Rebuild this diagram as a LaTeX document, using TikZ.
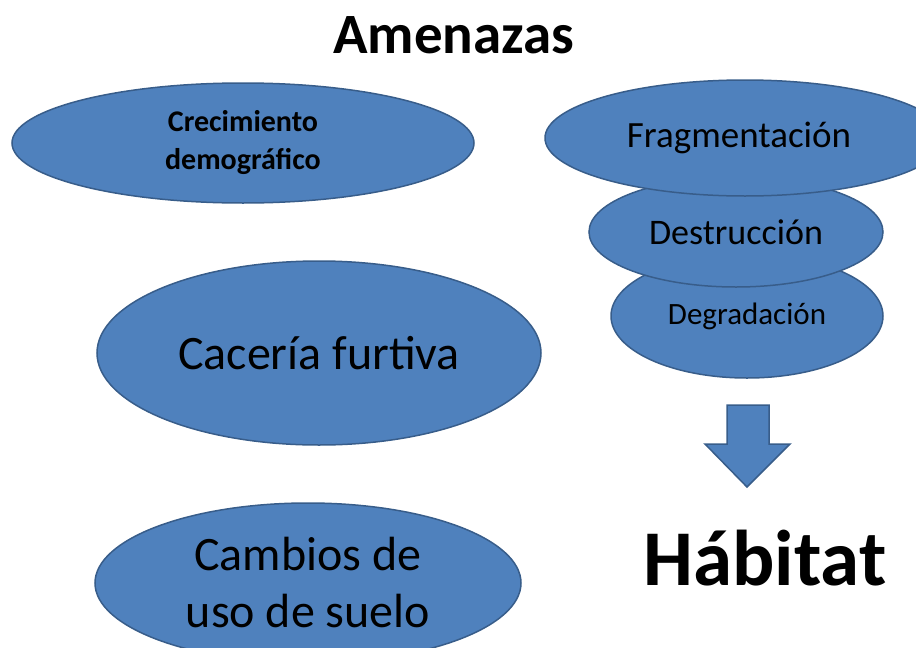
\documentclass[tikz,border=0pt]{standalone}
\usepackage{fontspec}
\setmainfont{Carlito}
\usetikzlibrary{shapes.geometric}
\definecolor{boxblue}{HTML}{4F81BD}
\definecolor{boxline}{HTML}{385D8A}
\begin{document}
\begin{tikzpicture}[x=1pt,y=-1pt]
        \tikzstyle{threat}=[ellipse,draw=boxline,fill=boxblue,line width=1.5pt,inner sep=0pt,align=center,text=black]
        \tikzstyle{title}=[anchor=base,font=\bfseries]
       \useasboundingbox (0,0) rectangle (916,648);
       \clip (0,0) rectangle (916,648);
       \begin{scope}
         \node [title,font=\fontsize{57}{68}\selectfont\bfseries] (amenazas) at (454,53) {Amenazas};
         \node [threat,minimum width=462pt,minimum height=120pt,font=\fontsize{30}{38}\selectfont\bfseries] (crecimiento) at (243,143) {Crecimiento\\demográfico};
         \node [threat,minimum width=444pt,minimum height=184pt,font=\fontsize{48}{57}\selectfont] (caceria) at (319,353) {Cacería furtiva};
         \node [threat,minimum width=426pt,minimum height=160pt,font=\fontsize{48}{57}\selectfont] (cambios) at (308,583) {Cambios de\\uso de suelo};
         % habitat stack
         \node [threat,minimum width=272pt,minimum height=124pt,font=\fontsize{31}{37}\selectfont] (degradacion) at (747,316) {Degradación};
         \node [threat,minimum width=294pt,minimum height=110pt,font=\fontsize{36}{43}\selectfont] (destruccion) at (736,232) {Destrucción};
         \node [threat,minimum width=400pt,minimum height=116pt,font=\fontsize{37}{44}\selectfont] (fragmentacion) at (745,138) {Fragmentación\hspace*{12pt}};
         \node [title,font=\fontsize{79}{94}\selectfont\bfseries] (habitat) at (765,585) {Hábitat};
         \filldraw [draw=boxline,fill=boxblue,line width=1.5pt,line join=miter]
           (727,405) -- (769,405) -- (769,444) -- (790,444) -- (747,487)
           -- (705,444) -- (727,444) -- cycle;
        \end{scope}
      \end{tikzpicture}
\end{document}
